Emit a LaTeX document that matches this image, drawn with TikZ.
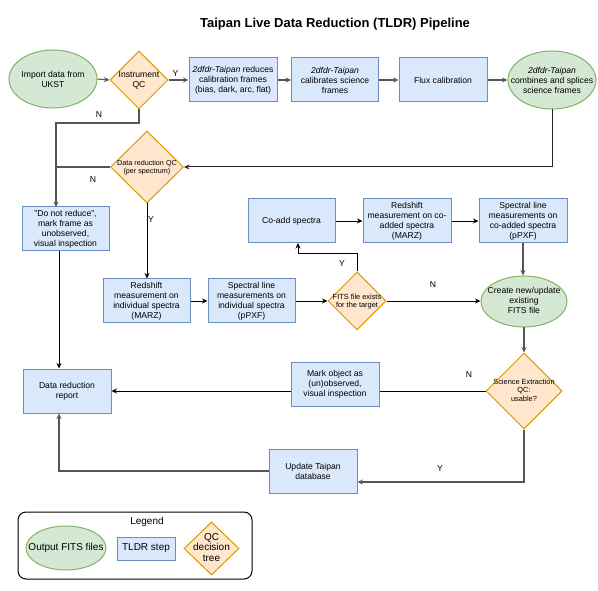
\documentclass[tikz,border=0pt]{standalone}
\usepackage{fontspec}
\setmainfont{Liberation Sans}
\usetikzlibrary{shapes.geometric,arrows.meta}
\definecolor{gfill}{HTML}{D5E8D4}
\definecolor{gline}{HTML}{82B366}
\definecolor{bfill}{HTML}{DAE8FC}
\definecolor{bline}{HTML}{6C8EBF}
\definecolor{ofill}{HTML}{FFE6CC}
\definecolor{oline}{HTML}{D79B00}
\definecolor{edgegray}{HTML}{555555}
\tikzset{
  gell/.style={ellipse, draw=gline, fill=gfill, line width=1pt, inner sep=0pt},
  bbox/.style={rectangle, draw=bline, fill=bfill, line width=1pt, minimum width=88pt, minimum height=44pt, inner sep=1pt, align=center, font=\fontsize{8.6}{10}\selectfont},
  odia/.style={diamond, draw=oline, fill=ofill, line width=1pt, inner sep=0pt},
  txt/.style={align=center, inner sep=0pt, font=\fontsize{8.6}{10}\selectfont},
  smalltxt/.style={align=center, inner sep=0pt, font=\fontsize{7.4}{8.6}\selectfont},
  lbl/.style={inner sep=0pt, font=\fontsize{8.6}{10}\selectfont},
  garr/.style={draw=edgegray, line width=1.1pt, -{Stealth[length=5.5pt,width=5pt]}},
  gline/.style={draw=edgegray, line width=1.1pt},
  barr/.style={draw=black, line width=0.8pt, -{Stealth[length=5.5pt,width=5pt]}},
  bline/.style={draw=black, line width=0.8pt},
}
\begin{document}
\begin{tikzpicture}[x=1pt,y=-1pt]
\useasboundingbox (0,0) rectangle (598,591);

% title
\node[inner sep=0pt] (title) at (335,24) {\fontsize{13}{15}\selectfont\bfseries Taipan Live Data Reduction (TLDR) Pipeline};

% top row
\node[gell, minimum width=88pt, minimum height=58pt] (imp) at (53,79) {};
\node[txt] (impt) at (imp) {Import data from\\UKST};
\node[odia, minimum width=58pt, minimum height=58pt] (iqc) at (139,80) {};
\node[txt] (iqct) at (iqc) {Instrument\\QC};
\node[bbox] (b1) at (233,80) {\textit{2dfdr-Taipan} reduces\\calibration frames\\(bias, dark, arc, flat)};
\node[bbox, minimum width=87pt] (b2) at (335,80) {\textit{2dfdr-Taipan}\\calibrates science\\frames};
\node[bbox] (b3) at (443,80) {Flux calibration};
\node[gell, minimum width=88pt, minimum height=58pt] (e2) at (552,80) {};
\node[txt] (e2t) at (e2) {\textit{2dfdr-Taipan}\\combines and splices\\science frames};

% data reduction QC
\node[odia, minimum width=73pt, minimum height=72pt] (dqc) at (147,167) {};
\node[smalltxt, font=\fontsize{7.2}{8.2}\selectfont] (dqct) at (147,168) {Data reduction QC\\(per spectrum)};

% left column
\node[bbox, minimum width=87pt] (dnr) at (65.5,229) {"Do not reduce",\\mark frame as\\unobserved,\\visual inspection};
\node[bbox] (rep) at (67,391) {Data reduction\\report};

% middle row
\node[bbox, minimum width=87pt] (rin) at (146.5,301) {Redshift\\measurement on\\individual spectra\\(MARZ)};
\node[bbox, minimum width=87pt] (sin) at (251.5,301) {Spectral line\\measurements on\\individual spectra\\(pPXF)};
\node[odia, minimum width=58pt, minimum height=58pt] (fits) at (357,301) {};
\node[smalltxt] (fitst) at (357,301.5) {FITS file exists\\for the target};

\node[bbox, minimum width=87pt] (coadd) at (291.5,221) {Co-add spectra};
\node[bbox] (rco) at (407,221) {Redshift\\measurement on co-\\added spectra\\(MARZ)};
\node[bbox] (sco) at (523,221) {Spectral line\\measurements on\\co-added spectra\\(pPXF)};

\node[gell, minimum width=86pt, minimum height=51pt] (cre) at (524,301.5) {};
\node[txt] (cret) at (524,300) {Create new/update\\existing\\FITS file};

% lower part
\node[odia, minimum width=76pt, minimum height=76pt] (sci) at (524,391) {};
\node[smalltxt] (scit) at (524,390) {Science Extraction\\QC:\\usable?};
\node[bbox] (mark) at (335,384) {Mark object as\\(un)observed,\\visual inspection};
\node[bbox] (upd) at (313,471) {Update Taipan\\database};

% connectors top row
\draw[garr] (imp.east) -- (iqc.west);
\draw[garr] (iqc.east) -- node[lbl, above=3pt, pos=0.35] (ly1) {Y} (b1.west);
\draw[garr] (b1.east) -- (b2.west);
\draw[garr] (b2.east) -- (b3.west);
\draw[garr] (b3.east) -- (e2.west);

% instrument QC N
\coordinate (n1a) at (139,123);
\coordinate (n1b) at (56,123);
\coordinate (n1c) at (56,207);
\draw[garr] (iqc.south) -- (n1a) -- (n1b) -- (n1c);
\node[lbl] (ln1) at (99,115) {N};

% e2 -> data reduction QC
\coordinate (e2c) at (552,167);
\draw[barr, line width=1pt, draw=black!85] (e2.south) -- (e2c) -- (dqc.east);

% data reduction QC N
\coordinate (n2) at (56,167);
\draw[gline] (dqc.west) -- (n2);
\node[lbl] (ln2) at (93,180) {N};

% data reduction QC Y
\draw[barr] (dqc.south) -- (dqc.south |- rin.north);
\node[lbl] (ly2) at (151,220) {Y};

\draw[barr] (rin.east) -- (sin.west);
\draw[barr] (sin.east) -- (fits.west);

% FITS exists Y
\coordinate (fy1) at (357,253);
\coordinate (fy2) at (298,253);
\coordinate (fy3) at (298,243);
\draw[barr] (fits.north) -- (fy1) -- (fy2) -- (fy3);
\node[lbl] (ly3) at (342,264) {Y};

\draw[barr] (coadd.east) -- (rco.west);
\draw[barr] (rco.east) -- (sco.west);
\draw[garr] (sco.south) -- (sco.south |- cre.north);

% FITS exists N
\draw[barr] (fits.east) -- (fits.east -| cre.west);
\node[lbl] (ln3) at (433,285) {N};

\draw[garr] (cre.south) -- (sci.north);

% science QC N
\draw[bline] (sci.west) -- (sci.west -| mark.east);
\draw[barr] (sci.west -| mark.west) -- (sci.west -| rep.east);
\node[lbl] (ln4) at (469,375) {N};

% science QC Y
\coordinate (sy1) at (524,482);
\draw[garr] (sci.south) -- (sy1) -- (sy1 -| upd.east);
\node[lbl] (ly4) at (440,469) {Y};

% update -> report
\coordinate (ur1) at (59,471);
\draw[garr] (upd.west) -- (ur1) -- (ur1 |- rep.south);

% do not reduce -> report
\coordinate (dr1) at (59,251);
\draw[barr] (dr1) -- (dr1 |- rep.north);

% legend
\node[draw=black, line width=1pt, rounded corners=8pt, minimum width=234pt, minimum height=67pt, inner sep=0pt] (leg) at (135,545.5) {};
\node[inner sep=0pt, font=\fontsize{10}{12}\selectfont] (legt) at (147,522) {Legend};
\node[gell, minimum width=80pt, minimum height=44pt] (lg1) at (66,548) {};
\node[inner sep=0pt, font=\fontsize{10}{12}\selectfont] (lg1t) at (lg1) {Output FITS files};
\node[bbox, minimum width=58pt, minimum height=23pt, font=\fontsize{10}{12}\selectfont] (lg2) at (146,548.5) {TLDR step};
\node[odia, minimum width=55pt, minimum height=53pt] (lg3) at (211.5,548.5) {};
\node[align=center, inner sep=0pt, font=\fontsize{10}{10.5}\selectfont] (lg3t) at (211.5,547.5) {QC\\decision\\tree};
\end{tikzpicture}
\end{document}
